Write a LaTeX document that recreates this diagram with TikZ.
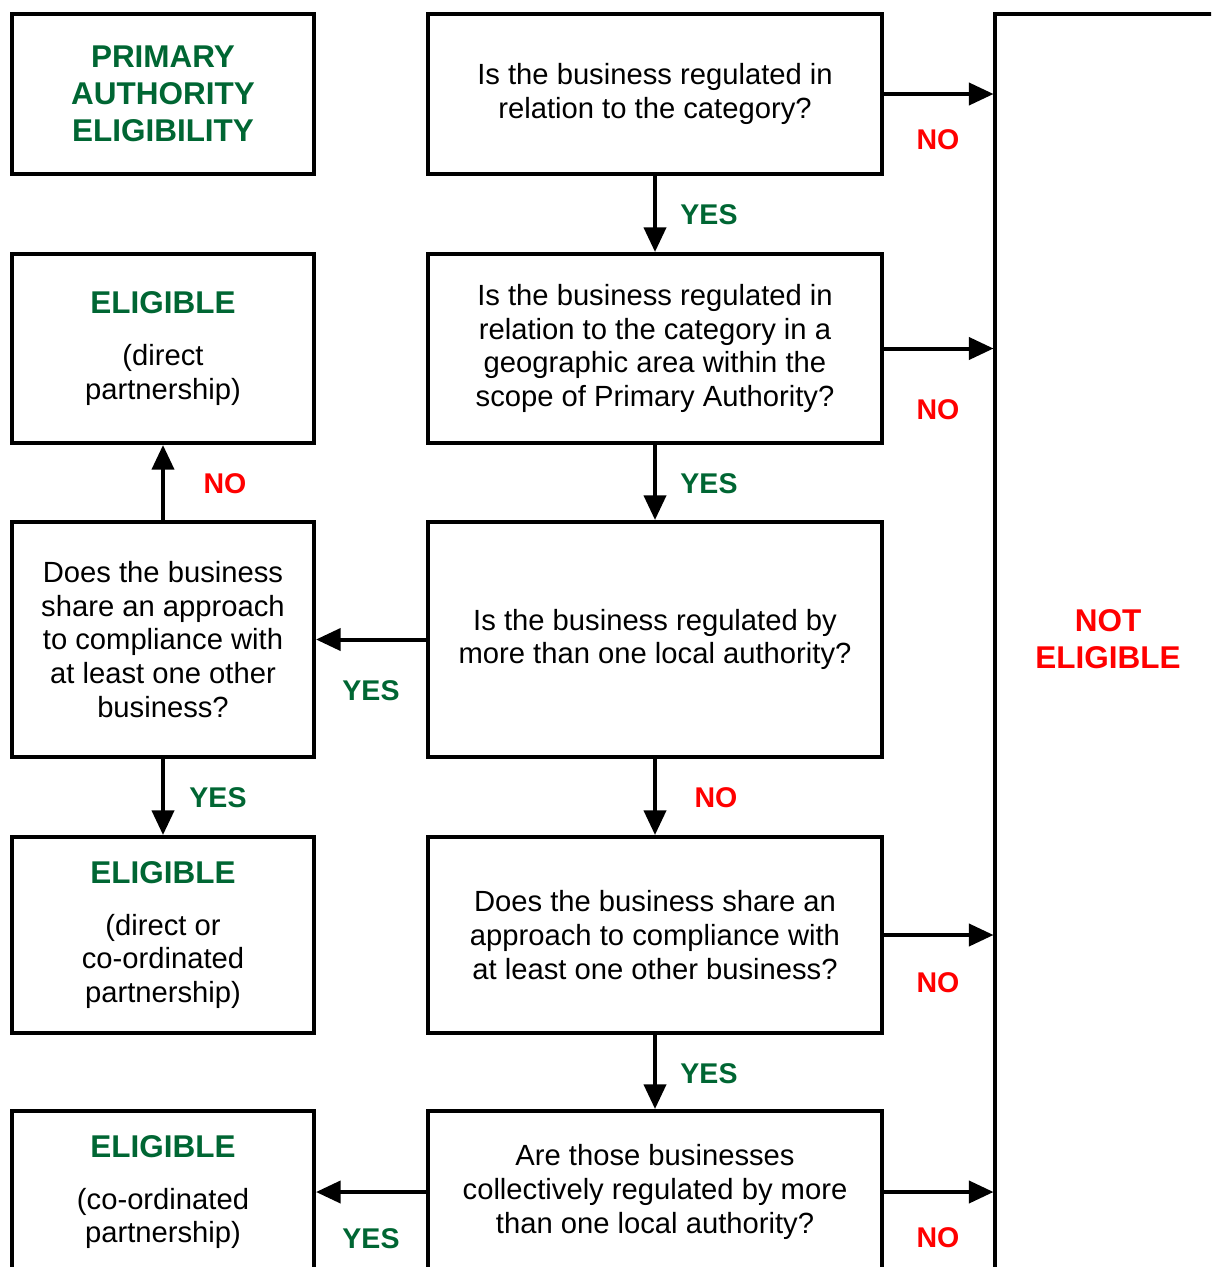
\documentclass[tikz,border=0pt]{standalone}
\usepackage{fontspec}
\setmainfont{Liberation Sans}
\usetikzlibrary{arrows.meta}
\definecolor{dgreen}{RGB}{0,102,51}
\definecolor{nored}{RGB}{255,0,0}
\newcommand{\qfont}{\fontsize{21.9}{25.3}\selectfont}
\newcommand{\hfont}{\fontsize{23.6}{27.75}\selectfont\bfseries}
\newcommand{\lfont}{\fontsize{21.4}{25}\selectfont\bfseries}
\begin{document}
\begin{tikzpicture}[x=0.75pt,y=-0.75pt,
  box/.style={draw, line width=3pt, inner sep=0pt, align=center, font=\qfont},
  lbox/.style={box, minimum width=226.5pt},
  mbox/.style={box, minimum width=340.5pt},
  arr/.style={line width=3pt, -{Triangle[length=18.5pt,width=16.5pt]}},
  ln/.style={line width=3pt},
  yes/.style={font=\lfont, text=dgreen, inner sep=0pt},
  no/.style={font=\lfont, text=nored, inner sep=0pt},
  head/.style={font=\hfont, text=dgreen}
]
\useasboundingbox (0,0) rectangle (1211,1267);
\clip (0,0) rectangle (1211,1267);

% left column
\node[lbox, minimum height=120pt, font=\hfont, text=dgreen] (pae) at (163,94) {PRIMARY\\AUTHORITY\\ELIGIBILITY};
\node[lbox, minimum height=141.75pt] (e1) at (163,348.5) {{\hfont\color{dgreen}ELIGIBLE}\\[13.7pt](direct\\partnership)};
\node[lbox, minimum height=176.25pt] (s) at (163,639.5) {Does the business\\share an approach\\to compliance with\\at least one other\\business?};
\node[lbox, minimum height=147pt] (e2) at (163,935) {{\hfont\color{dgreen}ELIGIBLE}\\[13.7pt](direct or\\co-ordinated\\partnership)};
\node[lbox, minimum height=121.5pt] (e3) at (163,1192) {{\hfont\color{dgreen}ELIGIBLE}\\[13.7pt](co-ordinated\\partnership)};

% middle column
\node[mbox, minimum height=120pt] (q1) at (655,94) {Is the business regulated in\\relation to the category?};
\node[mbox, minimum height=141.75pt] (q2) at (655,348.5) {Is the business regulated in\\relation to the category in a\\geographic area within the\\scope of Primary Authority?};
\node[mbox, minimum height=176.25pt] (q3) at (655,639.5) {Is the business regulated by\\more than one local authority?};
\node[mbox, minimum height=147pt] (q4) at (655,935) {Does the business share an\\approach to compliance with\\at least one other business?};
\node[mbox, minimum height=121.5pt] (q5) at (655,1192) {Are those businesses\\collectively regulated by more\\than one local authority?};

% right bracket line
\coordinate (rtop) at (995,14);
\coordinate (rbot) at (995,1290);
\coordinate (rend) at (1230,14);
\draw[ln, line join=miter] (rend) -- (rtop) -- (rbot);
\node[font=\hfont, text=nored, align=center, inner sep=0pt] (ne) at (1108,639) {NOT\\ELIGIBLE};

% vertical arrows
\draw[arr] (q1.south) -- (q2.north);
\draw[arr] (q2.south) -- (q3.north);
\draw[arr] (q3.south) -- (q4.north);
\draw[arr] (q4.south) -- (q5.north);
\draw[arr] (s.north) -- (e1.south);
\draw[arr] (s.south) -- (e2.north);
% horizontal arrows
\draw[arr] (q3.west) -- (s.east);
\draw[arr] (q5.west) -- (e3.east);
\draw[arr] (q1.east) -- ([xshift=-1.1pt]q1.east -| rtop);
\draw[arr] (q2.east) -- ([xshift=-1.1pt]q2.east -| rtop);
\draw[arr] (q4.east) -- ([xshift=-1.1pt]q4.east -| rtop);
\draw[arr] (q5.east) -- ([xshift=-1.1pt]q5.east -| rtop);

% labels
\node[yes] (y1) at (709,215) {YES};
\node[yes] (y2) at (709,484) {YES};
\node[no]  (n3) at (716,798) {NO};
\node[yes] (y4) at (709,1074) {YES};
\node[yes] (y5) at (371,691) {YES};
\node[yes] (y6) at (371,1239) {YES};
\node[yes] (y7) at (218,798) {YES};
\node[no]  (n8) at (225,484) {NO};
\node[no]  (r1) at (938,140) {NO};
\node[no]  (r2) at (938,410) {NO};
\node[no]  (r3) at (938,983) {NO};
\node[no]  (r4) at (938,1238) {NO};
\end{tikzpicture}
\end{document}
